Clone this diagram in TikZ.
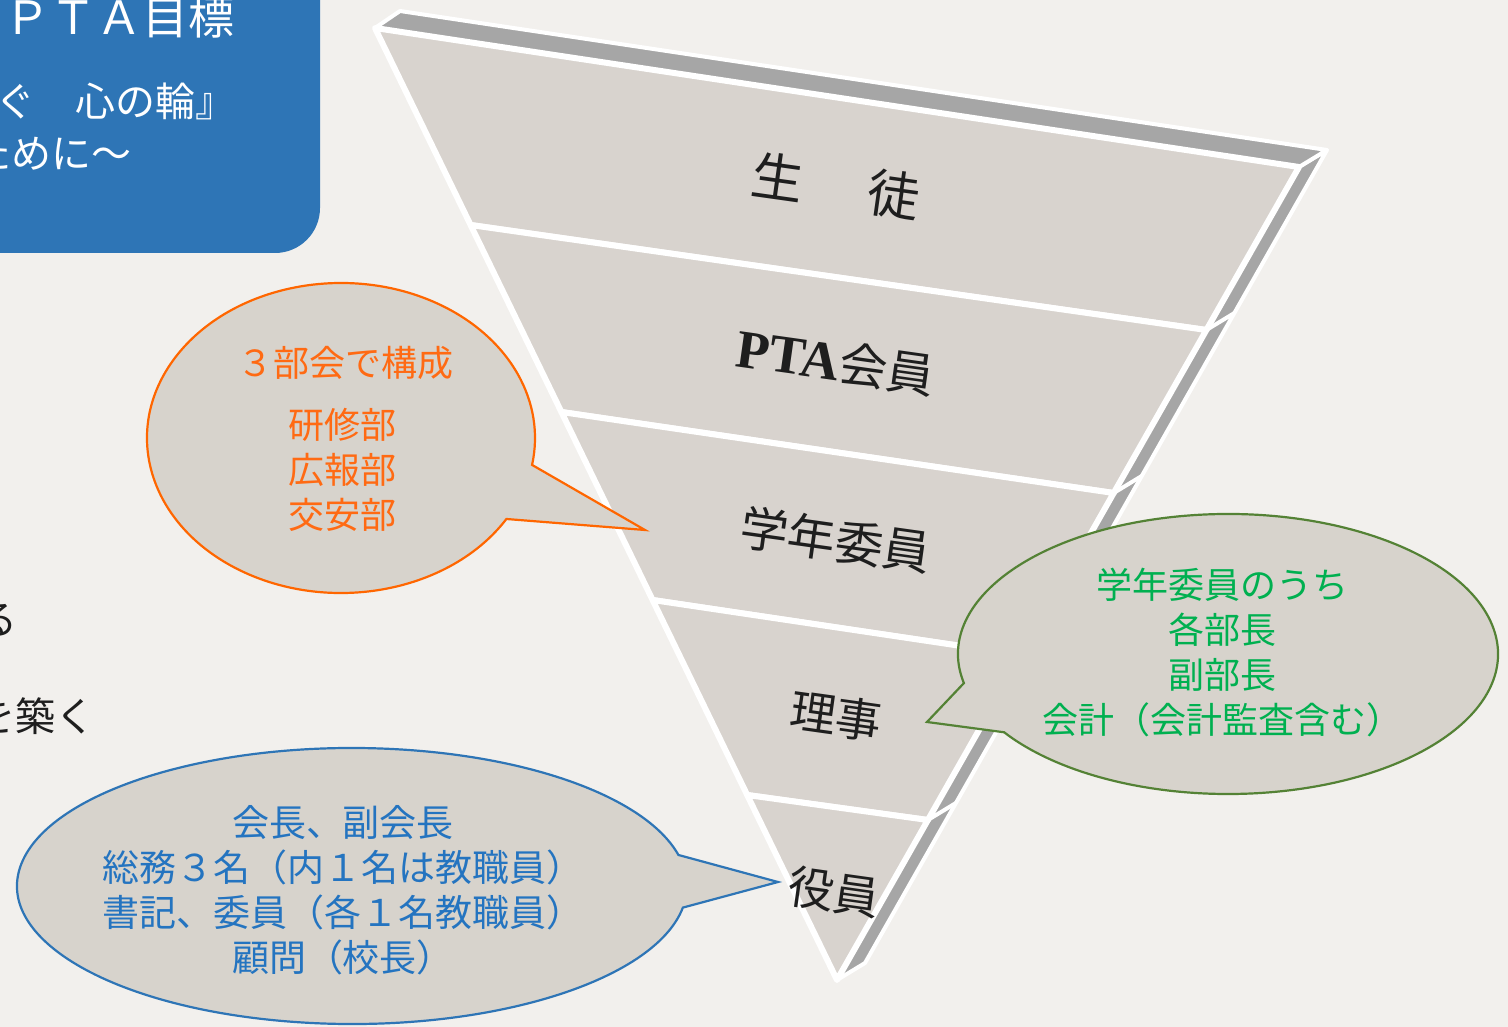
\documentclass[tikz,border=0pt]{standalone}
\usepackage{fontspec}
\usetikzlibrary{calc}
\setmainfont{Noto Sans CJK JP}
\newfontfamily\jp{Noto Sans CJK JP}
\newfontfamily\ptaf{Liberation Serif}
\definecolor{bgc}{HTML}{F2F0ED}
\definecolor{bandc}{HTML}{D8D3CE}
\definecolor{callc}{HTML}{D7D3CC}
\definecolor{sidec}{HTML}{A6A6A6}
\definecolor{boxblue}{HTML}{2E75B6}
\definecolor{orgline}{HTML}{FF6600}
\definecolor{orgtext}{HTML}{FF6A13}
\definecolor{grnline}{HTML}{548235}
\definecolor{grntext}{HTML}{00B050}
\definecolor{blutext}{HTML}{2474C0}
\definecolor{inkc}{HTML}{1E1E1E}
\tikzset{
  bandfill/.style={fill=bandc, draw=white, line width=6pt, line join=round},
  sidefill/.style={fill=sidec, draw=white, line width=4pt, line join=round},
  bandtxt/.style={font=\jp\fontsize{48}{56}\selectfont, text=inkc, rotate=-8, inner sep=0pt},
  calltxt/.style={align=center, inner sep=0pt, font=\jp\fontsize{36}{45}\selectfont},
  callshape/.style={fill=callc, line width=2.2pt, line join=miter},
  boxtxt/.style={text=white, inner sep=0pt},
  edgetxt/.style={text=inkc, inner sep=0pt, font=\jp\fontsize{40}{48}\selectfont}
}
\begin{document}
\begin{tikzpicture}[x=1pt,y=-1pt]
\useasboundingbox (0,0) rectangle (1508,1027);
\begin{scope}
\clip (0,0) rectangle (1508,1027);
\fill[bgc] (0,0) rectangle (1508,1027);
% blue title box
\fill[boxblue, rounded corners=45pt] (-80,-80) rectangle (320,253);
\node[boxtxt, anchor=west, font=\jp\fontsize{46}{50}\selectfont] (title) at (4,17) {ＰＴＡ目標};
\node[boxtxt, anchor=east, font=\jp\fontsize{40}{48}\selectfont] (motto) at (236,101) {ぐ　心の輪』};
\node[boxtxt, anchor=east, font=\jp\fontsize{40}{48}\selectfont] (motto2) at (132,153) {ために～};
% left edge text fragments
\node[edgetxt, anchor=east] (frag1) at (18,620) {る};
\node[edgetxt, anchor=east] (frag2) at (96,716) {を築く};
% pyramid coordinates
\coordinate (TL) at (375,28);
\coordinate (TR) at (1299,167);
\coordinate (TIP) at (837,980);
\coordinate (L1) at (470.6,225);  \coordinate (R1) at (1206.4,330);
\coordinate (L2) at (561.4,412);  \coordinate (R2) at (1113.7,493);
\coordinate (L3) at (652.6,600);  \coordinate (R3) at (1021.7,655);
\coordinate (L4) at (747.2,795);  \coordinate (R4) at (927.9,820);
\coordinate (TLb) at (400,11);
\coordinate (TRb) at (1327,150);
\coordinate (TIPb) at (865,963);
% 3D side and top
\path[sidefill] (TR) -- (TRb) -- (TIPb) -- (TIP) -- cycle;
\path[sidefill] (TL) -- (TLb) -- (TRb) -- (TR) -- cycle;
\foreach \r in {R1,R2,R3,R4}{
  \draw[white, line width=4pt] (\r) -- ++(28,-17);
}
% bands
\path[bandfill] (TL) -- (TR) -- (R1) -- (L1) -- cycle;
\path[bandfill] (L1) -- (R1) -- (R2) -- (L2) -- cycle;
\path[bandfill] (L2) -- (R2) -- (R3) -- (L3) -- cycle;
\path[bandfill] (L3) -- (R3) -- (R4) -- (L4) -- cycle;
\path[bandfill] (L4) -- (R4) -- (TIP) -- cycle;
% band labels
\node[bandtxt, font=\jp\fontsize{52}{60}\selectfont] (seito) at (836,186) {生\hspace{0.25em}　徒};
\node[bandtxt] (pta) at (836,362) {{\ptaf\bfseries\fontsize{54}{60}\selectfont PTA}会員};
\node[bandtxt] (gakunen) at (836,540) {学年委員};
\node[bandtxt, font=\jp\fontsize{46}{56}\selectfont] (riji) at (836,716) {理事};
\node[bandtxt, font=\jp\fontsize{46}{56}\selectfont] (yakuin) at (834,892) {役員};
% orange callout
\draw[callshape, draw=orgline] (341,438) ++(31.5:194 and 155)
  arc[start angle=31.5, end angle=370, x radius=194, y radius=155] -- (645,530) -- cycle;
\node[calltxt, text=orgtext] (bukai) at (345,363) {３部会で構成};
\node[calltxt, text=orgtext] (bumei) at (342,470) {研修部\\広報部\\交安部};
% green callout
\draw[callshape, draw=grnline] (1228,654) ++(168:270 and 140)
  arc[start angle=168, end angle=506, x radius=270, y radius=140] -- (927,722) -- cycle;
\node[calltxt, text=grntext] (rijitxt) at (1222,653) {学年委員のうち\\各部長\\副部長\\会計（会計監査含む）};
% blue callout
\draw[callshape, draw=boxblue] (352,886) ++(9:335 and 138)
  arc[start angle=9, end angle=347, x radius=335, y radius=138] -- (778,882) -- cycle;
\node[calltxt, text=blutext, font=\jp\fontsize{37}{45}\selectfont] (yakutxt) at (343,890) {会長、副会長\\総務３名（内１名は教職員）\\書記、委員（各１名教職員）\\顧問（校長）};
\end{scope}
\end{tikzpicture}
\end{document}
